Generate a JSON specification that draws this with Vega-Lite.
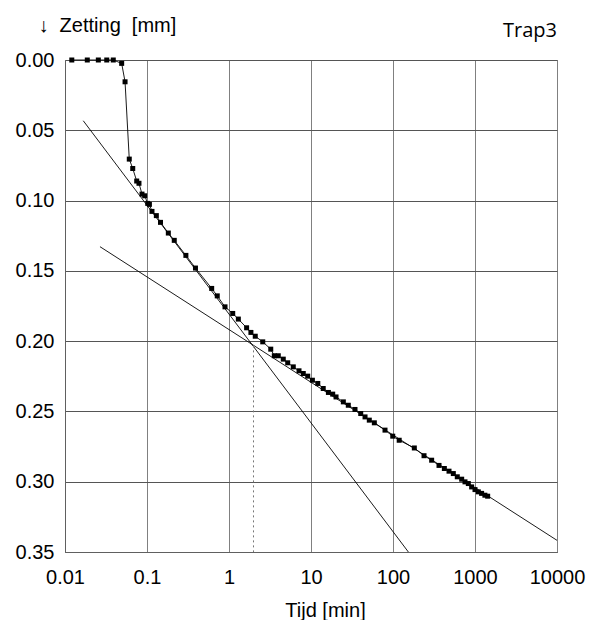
{
  "$schema": "https://vega.github.io/schema/vega-lite/v6.json",
  "width": 492,
  "height": 492,
  "autosize": {"type": "none"},
  "padding": {"left": 65, "top": 60, "right": 38, "bottom": 68},
  "background": "white",
  "title": {"text": "Trap3", "anchor": "end", "frame": "group", "orient": "top", "font": "Open Sans", "fontSize": 20, "fontWeight": "normal", "color": "black", "baseline": "alphabetic", "offset": 0, "dy": 42},
  "config": {
    "view": {"stroke": "#808080", "strokeWidth": 1},
    "axis": {"labelFont": "Liberation Sans", "titleFont": "Liberation Sans", "labelFontSize": 20, "titleFontSize": 20, "labelColor": "black", "titleColor": "black", "titleFontWeight": "normal", "ticks": false, "domainColor": "#606060", "gridOpacity": 1, "labelFlush": false, "labelOverlap": false}
  },
  "datasets": {
    "pts": [
      {"t": 0.0121, "s": 0.0},
      {"t": 0.0187, "s": 0.0},
      {"t": 0.0255, "s": 0.0},
      {"t": 0.0323, "s": 0.0},
      {"t": 0.0388, "s": 0.0},
      {"t": 0.0491, "s": 0.0024},
      {"t": 0.054, "s": 0.0155},
      {"t": 0.0608, "s": 0.0705},
      {"t": 0.067, "s": 0.0772},
      {"t": 0.0749, "s": 0.0861},
      {"t": 0.0798, "s": 0.0877},
      {"t": 0.0869, "s": 0.0954},
      {"t": 0.0938, "s": 0.0966},
      {"t": 0.102, "s": 0.102},
      {"t": 0.107, "s": 0.1027},
      {"t": 0.115, "s": 0.1077},
      {"t": 0.13, "s": 0.1107},
      {"t": 0.146, "s": 0.1155},
      {"t": 0.182, "s": 0.1231},
      {"t": 0.215, "s": 0.1283},
      {"t": 0.298, "s": 0.139},
      {"t": 0.39, "s": 0.148},
      {"t": 0.615, "s": 0.1625},
      {"t": 0.719, "s": 0.1678},
      {"t": 0.894, "s": 0.1756},
      {"t": 1.11, "s": 0.1803},
      {"t": 1.3, "s": 0.1843},
      {"t": 1.64, "s": 0.1905},
      {"t": 1.85, "s": 0.1938},
      {"t": 2.09, "s": 0.1965},
      {"t": 2.58, "s": 0.2005},
      {"t": 3.23, "s": 0.2057},
      {"t": 3.57, "s": 0.2104},
      {"t": 3.99, "s": 0.2104},
      {"t": 4.59, "s": 0.2128},
      {"t": 5.2, "s": 0.2154},
      {"t": 6.08, "s": 0.2183},
      {"t": 7.14, "s": 0.2211},
      {"t": 8.05, "s": 0.223},
      {"t": 9.12, "s": 0.2249},
      {"t": 10.4, "s": 0.2278},
      {"t": 12.1, "s": 0.2301},
      {"t": 14.1, "s": 0.2337},
      {"t": 16.3, "s": 0.2365},
      {"t": 18.4, "s": 0.2377},
      {"t": 20.2, "s": 0.2397},
      {"t": 24.8, "s": 0.2432},
      {"t": 28.5, "s": 0.2456},
      {"t": 34.4, "s": 0.2486},
      {"t": 40.4, "s": 0.2515},
      {"t": 45.6, "s": 0.2539},
      {"t": 51.4, "s": 0.2562},
      {"t": 59.2, "s": 0.2581},
      {"t": 79.9, "s": 0.2633},
      {"t": 99.3, "s": 0.2676},
      {"t": 119, "s": 0.2705},
      {"t": 182, "s": 0.276},
      {"t": 239, "s": 0.2815},
      {"t": 296, "s": 0.2847},
      {"t": 364, "s": 0.2884},
      {"t": 423, "s": 0.2906},
      {"t": 482, "s": 0.2925},
      {"t": 544, "s": 0.2942},
      {"t": 608, "s": 0.2965},
      {"t": 688, "s": 0.2982},
      {"t": 755, "s": 0.3001},
      {"t": 829, "s": 0.3013},
      {"t": 910, "s": 0.3037},
      {"t": 1000, "s": 0.3056},
      {"t": 1097, "s": 0.3072},
      {"t": 1204, "s": 0.3083},
      {"t": 1320, "s": 0.3096},
      {"t": 1427, "s": 0.3103}
    ],
    "tangents": [
      {"id": "A", "t": 0.0167, "s": 0.0432},
      {"id": "A", "t": 154, "s": 0.35},
      {"id": "B", "t": 0.0267, "s": 0.1328},
      {"id": "B", "t": 10000, "s": 0.3417}
    ],
    "drop": [
      {"t": 1.99, "s": 0.203, "s2": 0.35}
    ]
  },
  "encoding": {
    "x": {"field": "t", "type": "quantitative", "scale": {"type": "log", "domain": [0.01, 10000], "nice": false},
      "axis": {"values": [0.01, 0.1, 1, 10, 100, 1000, 10000], "labelExpr": "'' + datum.value", "labelPadding": 15, "gridColor": "#808080", "title": "Tijd [min]", "titleX": 260, "titleY": 64, "titleBaseline": "alphabetic", "titleAnchor": null}},
    "y": {"field": "s", "type": "quantitative", "scale": {"domain": [0, 0.35], "reverse": true, "nice": false, "zero": false},
      "axis": {"values": [0, 0.05, 0.1, 0.15, 0.2, 0.25, 0.3, 0.35], "format": ".2f", "labelPadding": 11, "gridColor": "#555555", "title": "\u2193\u00a0\u00a0Zetting\u00a0\u00a0[mm]", "titleAngle": 0, "titleAlign": "left", "titleBaseline": "alphabetic", "titleX": -27, "titleY": -29}}
  },
  "layer": [
    {"data": {"name": "tangents"}, "mark": {"type": "line", "color": "black", "strokeWidth": 0.9, "clip": true}, "encoding": {"detail": {"field": "id"}}},
    {"data": {"name": "drop"}, "mark": {"type": "rule", "color": "#777777", "strokeWidth": 1, "strokeDash": [2, 3]}, "encoding": {"y2": {"field": "s2"}}},
    {"data": {"name": "pts"}, "mark": {"type": "line", "color": "black", "strokeWidth": 0.9}, "encoding": {}},
    {"data": {"name": "pts"}, "mark": {"type": "square", "color": "black", "filled": true, "size": 25, "opacity": 1}, "encoding": {}}
  ]
}
